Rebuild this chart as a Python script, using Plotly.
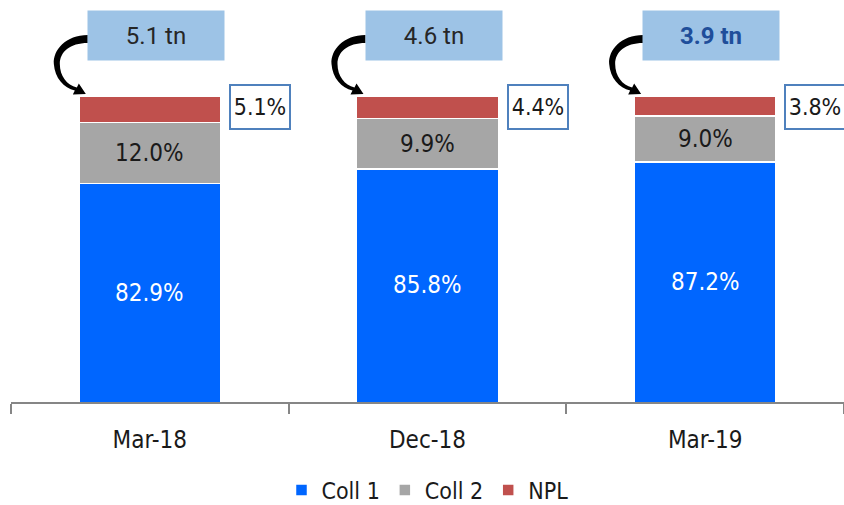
import plotly.graph_objects as go

# ---- data -------------------------------------------------------------
periods = ["Mar-18", "Dec-18", "Mar-19"]
coll1 = [82.9, 85.8, 87.2]
coll2 = [12.0, 9.9, 9.0]
npl = [5.1, 4.4, 3.8]
portfolio = ["5.1 tn", "4.6 tn", "3.9 tn"]

# ---- geometry ---------------------------------------------------------
W, H = 844, 505
ML, MR, MT, MB = 11, 0, 0, 103
PW, PH = W - ML - MR, H - MT - MB
Y0, Y1 = 40, 119
N = len(periods)

FONT = "'Liberation Sans Narrow', 'Arial Narrow', 'DejaVu Sans Condensed', sans-serif"
C_BLUE, C_GRAY, C_RED = "#0066FF", "#A6A6A6", "#C0504D"
TXT = "#1a1a1a"


def cx(i):
    """pixel x of a category centre"""
    return ML + (i + 0.5) * PW / N


def xp(px):
    return (px - ML) / PW


def yp(pyv):
    return 1 - (pyv - MT) / PH


fig = go.Figure()
for name, vals, col in [("Coll 1", coll1, C_BLUE), ("Coll 2", coll2, C_GRAY), ("NPL", npl, C_RED)]:
    fig.add_trace(go.Bar(
        x=periods, y=vals, name=name,
        marker=dict(color=col, line=dict(color="white", width=1.5)),
        hoverinfo="skip",
    ))

annotations = []
shapes = []
for i, p in enumerate(periods):
    c = cx(i)
    # value labels inside the bars
    annotations.append(dict(
        xref="x", yref="y", x=p, y=(Y0 + coll1[i]) / 2,
        text=f"{coll1[i]:.1f}%", showarrow=False,
        font=dict(family=FONT, size=24, color="white"),
    ))
    annotations.append(dict(
        xref="x", yref="y", x=p, y=coll1[i] + coll2[i] / 2,
        text=f"{coll2[i]:.1f}%", showarrow=False,
        font=dict(family=FONT, size=24, color=TXT),
    ))
    # NPL share in an outlined box to the right of the bar
    annotations.append(dict(
        xref="paper", yref="paper", x=xp(c + 110), y=yp(107),
        text=f"{npl[i]:.1f}%", showarrow=False,
        font=dict(family=FONT, size=23, color=TXT),
        bgcolor="white", bordercolor="#4F81BD", borderwidth=2, borderpad=0,
        width=58, height=42, xanchor="center", yanchor="middle",
    ))
    # portfolio size box above the bar
    last = i == N - 1
    annotations.append(dict(
        xref="paper", yref="paper", x=xp(c + 6), y=yp(35.5),
        text=f"<b>{portfolio[i]}</b>" if last else portfolio[i], showarrow=False,
        font=dict(family="Roboto", size=24, color="#1F4E9A" if last else "#262626"),
        bgcolor="#9DC3E6", borderpad=0, width=136, height=49,
        xanchor="center", yanchor="middle",
    ))
    # curved arrow from the box down to the top of the bar
    bx = c + 6 - 68
    pts = [
        ("M", [(bx, 35)]),
        ("C", [(bx - 22, 35), (bx - 35, 50), (bx - 34, 64)]),
        ("C", [(bx - 33, 78), (bx - 24, 88), (bx - 13, 90.5)]),
        ("L", [(bx - 15, 94.5)]),
        ("L", [(bx - 2, 94)]),
        ("L", [(bx - 9, 83.5)]),
        ("L", [(bx - 11, 87.5)]),
        ("C", [(bx - 21, 85), (bx - 28, 76), (bx - 28, 64)]),
        ("C", [(bx - 28, 52), (bx - 18, 43), (bx, 43)]),
    ]
    path = " ".join(
        cmd + " " + " ".join(f"{xp(x):.5f},{yp(y):.5f}" for x, y in coords)
        for cmd, coords in pts
    ) + " Z"
    shapes.append(dict(type="path", xref="paper", yref="paper", path=path,
                       fillcolor="black", line=dict(width=0), layer="above"))

fig.update_layout(
    width=W, height=H,
    margin=dict(l=ML, r=MR, t=MT, b=MB, autoexpand=False),
    paper_bgcolor="white", plot_bgcolor="white",
    barmode="stack", bargap=0.489,
    showlegend=True,
    legend=dict(orientation="h", x=0.5, xanchor="center", y=yp(490), yanchor="middle",
                traceorder="normal", font=dict(family=FONT, size=23, color=TXT)),
    xaxis=dict(
        showline=True, linecolor="#868686", linewidth=2,
        ticks="outside", tickson="boundaries", ticklen=10, tickwidth=2, tickcolor="#868686",
        ticklabelstandoff=15,
        tickfont=dict(family=FONT, size=24, color=TXT), showgrid=False,
    ),
    yaxis=dict(range=[Y0, Y1], visible=False, showgrid=False, zeroline=False),
    annotations=annotations,
    shapes=shapes,
)

fig.write_html("out.html")
